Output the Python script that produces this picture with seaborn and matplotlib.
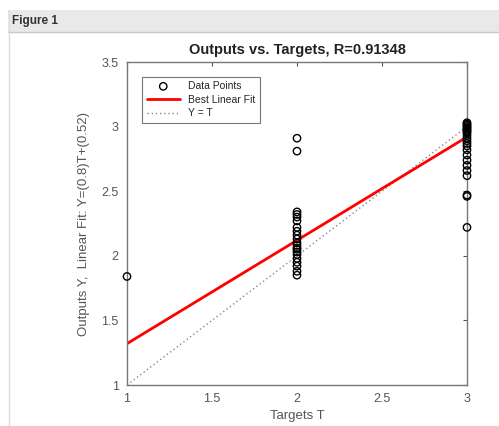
import numpy as np
import pandas as pd
import matplotlib
matplotlib.use("Agg")
import matplotlib.pyplot as plt
import seaborn as sns
from matplotlib.patches import Rectangle
from matplotlib.lines import Line2D

# outputs, grouped by target
outputs_1 = [1.84]
outputs_2 = [2.91, 2.81, 2.34, 2.32, 2.30, 2.27, 2.22, 2.19, 2.16, 2.13, 2.10,
             2.08, 2.06, 2.05, 2.03, 2.01, 1.98, 1.95, 1.92, 1.88, 1.85]
outputs_3 = [3.03, 3.02, 3.01, 3.00, 2.99, 2.98, 2.97, 2.96, 2.95, 2.93, 2.91,
             2.89, 2.87, 2.85, 2.82, 2.78, 2.74, 2.70, 2.66, 2.62, 2.47, 2.46, 2.22]

fit_slope = 0.8
fit_intercept = 0.52
r_value = 0.91348
x_ticks = [1, 1.5, 2, 2.5, 3]
y_ticks = [1, 1.5, 2, 2.5, 3, 3.5]

df = pd.DataFrame({
    "T": [1] * len(outputs_1) + [2] * len(outputs_2) + [3] * len(outputs_3),
    "Y": outputs_1 + outputs_2 + outputs_3,
})
t_line = np.array([1, 3])
fit_df = pd.DataFrame({"T": t_line, "Y": fit_slope * t_line + fit_intercept})
id_df = pd.DataFrame({"T": t_line, "Y": t_line})

sns.set_style("white")
plt.rcParams["font.family"] = ["Liberation Sans", "DejaVu Sans"]

fig = plt.figure(figsize=(4.99, 4.26), dpi=100)
# MATLAB-like window chrome
fig.patches.append(Rectangle((8 / 499, 1 - 32 / 426), 1, 22 / 426, transform=fig.transFigure,
                             facecolor="#e9e9e9", edgecolor="none", zorder=0))
fig.lines.append(Line2D([8 / 499, 1], [1 - 32 / 426] * 2, transform=fig.transFigure,
                        color="#c8c8c8", lw=1))
fig.lines.append(Line2D([9 / 499] * 2, [0, 1 - 10 / 426], transform=fig.transFigure,
                        color="#dcdcdc", lw=1))
fig.text(12 / 499, 1 - 21 / 426, "Figure 1", fontsize=8.5, fontweight="bold",
         color="#333333", va="center")

ax = fig.add_axes([127 / 499, 41 / 426, 340 / 499, 323 / 426])

sns.lineplot(data=id_df, x="T", y="Y", ax=ax, color="#888888", lw=1,
             linestyle=(0, (1, 2)), label="Y = T", zorder=1)
sns.lineplot(data=fit_df, x="T", y="Y", ax=ax, color="red", lw=2,
             label="Best Linear Fit", zorder=2)
sns.scatterplot(data=df, x="T", y="Y", ax=ax, marker="o", s=28,
                facecolors="none", edgecolor="black", linewidth=1,
                label="Data Points", zorder=3, clip_on=False)

ax.set_xlim(1, 3)
ax.set_ylim(1, 3.5)
ax.set_xticks(x_ticks)
ax.set_xticklabels(["1", "1.5", "2", "2.5", "3"])
ax.set_yticks(y_ticks)
ax.set_yticklabels(["1", "1.5", "2", "2.5", "3", "3.5"])
ax.tick_params(direction="in", length=3, top=True, right=True, colors="#555555",
               labelsize=9, width=0.8, pad=6)
for sp in ax.spines.values():
    sp.set_color("#777777")
    sp.set_linewidth(1)

ax.set_title(f"Outputs vs. Targets, R={r_value}", fontsize=10.5, fontweight="bold",
             color="#222222", pad=6)
ax.set_xlabel("Targets T", fontsize=9.5, color="#555555", labelpad=3)
ax.set_ylabel(f"Outputs Y,  Linear Fit: Y=({fit_slope})T+({fit_intercept})",
              fontsize=9.5, color="#555555", labelpad=8)

handles, labels = ax.get_legend_handles_labels()
order = [labels.index("Data Points"), labels.index("Best Linear Fit"), labels.index("Y = T")]
leg = ax.legend([handles[i] for i in order], [labels[i] for i in order],
                loc="upper left", bbox_to_anchor=(0.03, 0.97), fontsize=7.5,
                frameon=True, fancybox=False, edgecolor="#555555",
                handlelength=3.2, borderpad=0.4, labelspacing=0.35)
leg.get_frame().set_linewidth(0.8)

fig.savefig("out.png", dpi=100)
